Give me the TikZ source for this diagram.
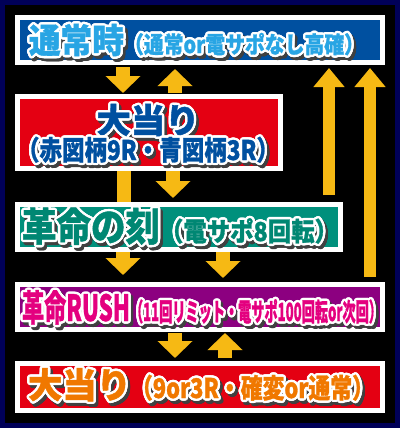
\documentclass[tikz,border=0pt]{standalone}
\usepackage{fontspec}
\usepackage{graphicx}
\newfontfamily\jp{Noto Sans CJK JP}[BoldFeatures={FakeBold=1.2}]
\usetikzlibrary{arrows.meta}
\definecolor{navy}{RGB}{0,0,88}
\definecolor{arrowc}{RGB}{246,185,20}
\definecolor{bluebox}{RGB}{0,80,160}
\definecolor{redbox}{RGB}{228,0,18}
\definecolor{tealbox}{RGB}{0,144,124}
\definecolor{purplebox}{RGB}{140,0,128}
\definecolor{ltblue}{RGB}{40,165,228}
\definecolor{dkblue}{RGB}{0,80,160}
\definecolor{tealtxt}{RGB}{0,135,115}
\definecolor{magtxt}{RGB}{228,0,127}
\definecolor{orangetxt}{RGB}{240,120,0}
\newcommand\fitt[3]{\resizebox{#2pt}{\height}{\fontsize{#1pt}{#1pt}\selectfont\jp\bfseries #3}}
\newcommand\otext[7]{% name, at, anchor, size, width, color, text
  \foreach \a [count=\i] in {0,22.5,...,337.5}{
    \node[tx,anchor=#3,text=black!75,shift={(\a:2.4pt)},shift={(2.5pt,-3pt)}] (#1s\i) at (#2) {\fitt{#4}{#5}{#7}};}
  \foreach \a [count=\i] in {0,22.5,...,337.5}{
    \node[tx,anchor=#3,text=white,shift={(\a:2.4pt)}] (#1w\i) at (#2) {\fitt{#4}{#5}{#7}};}
  \node[tx,anchor=#3,text=#6] (#1) at (#2) {\fitt{#4}{#5}{#7}};
}
\tikzset{
  tx/.style={inner sep=0pt,outer sep=0pt},
  boxst/.style={draw=white,line width=5pt,inner sep=0pt,outer sep=2.5pt,rectangle},
  arr/.style={draw=arrowc,line width=14pt,-{Triangle[width=34pt,length=17pt]}},
  longarr/.style={draw=arrowc,line width=12pt,-{Triangle[width=30pt,length=19pt]}},
  barst/.style={draw=arrowc,line width=14pt},
}
\begin{document}
\begin{tikzpicture}[x=1pt,y=-1pt]
\useasboundingbox (0,0) rectangle (400,428);
\fill[navy] (0,0) rectangle (400,428);
\fill[black] (5,5) rectangle (395,423);

% boxes
\node[boxst,fill=bluebox,minimum width=365pt,minimum height=45pt] (b1) at (200,40) {};
\node[boxst,fill=redbox,minimum width=263pt,minimum height=72pt] (b2) at (149,132.5) {};
\node[boxst,fill=tealbox,minimum width=323pt,minimum height=45pt] (b3) at (179,227) {};
\node[boxst,fill=purplebox,minimum width=365pt,minimum height=45pt] (b4) at (200,307) {};
\node[boxst,fill=redbox,minimum width=365pt,minimum height=47pt] (b5) at (200,387) {};

% arrows
\draw[arr,shorten <=2pt,shorten >=1pt] (123,0 |- b1.south) -- (123,0 |- b2.north);
\draw[arr,shorten <=1pt,shorten >=4pt] (175,0 |- b2.north) -- (175,0 |- b1.south);
\draw[barst] (124,0 |- b2.south) -- (124,0 |- b3.north);
\draw[arr,shorten >=4pt] (173,0 |- b2.south) -- (173,0 |- b3.north);
\draw[longarr,shorten <=7pt,shorten >=3pt] (329,0 |- b3.north) -- (329,0 |- b1.south);
\draw[longarr,shorten <=5pt,shorten >=3pt] (370,0 |- b4.north) -- (370,0 |- b1.south);
\draw[arr,shorten >=7pt] (123,0 |- b3.south) -- (123,0 |- b4.north);
\draw[arr,shorten >=4pt] (223,0 |- b3.south) -- (223,0 |- b4.north);
\draw[arr,shorten <=1pt,shorten >=3pt] (175,0 |- b4.south) -- (175,0 |- b5.north);
\draw[arr,shorten <=3pt,shorten >=1pt] (225,0 |- b5.north) -- (225,0 |- b4.south);

% texts
\otext{t1}{29,53}{base west}{34}{95}{ltblue}{通常時}
\otext{t1b}{t1.base east}{base west}{23}{240}{ltblue}{（通常or電サポなし高確）}
\otext{t2}{148,133}{base}{34}{103}{dkblue}{大当り}
\otext{t2b}{148,160}{base}{27}{262}{dkblue}{（赤図柄9R・青図柄3R）}
\otext{t3}{22,241}{base west}{39}{138}{tealtxt}{革命の刻}
\otext{t3b}{t3.base east}{base west}{26}{178}{tealtxt}{（電サポ8回転）}
\otext{t4}{22,321}{base west}{36}{108}{magtxt}{革命RUSH}
\otext{t4b}{t4.base east}{base west}{25}{252}{magtxt}{（11回リミット・電サポ100回転or次回）}
\otext{t5}{28,398}{base west}{35}{103}{orangetxt}{大当り}
\otext{t5b}{t5.base east}{base west}{27}{243}{orangetxt}{（9or3R・確変or通常）}
\end{tikzpicture}
\end{document}
